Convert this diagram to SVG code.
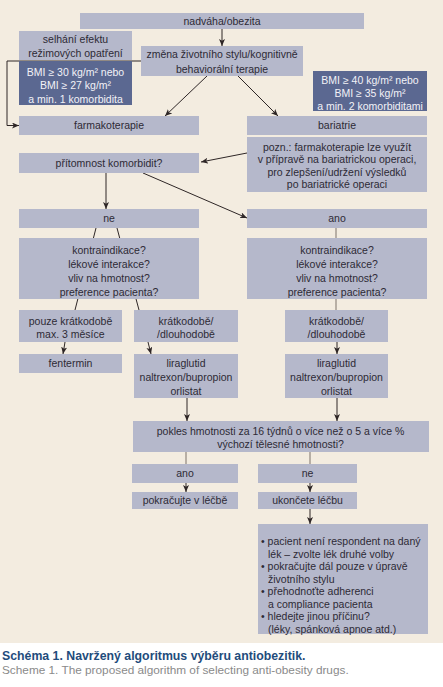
<svg xmlns="http://www.w3.org/2000/svg" width="443" height="687" viewBox="0 0 443 687">
<defs>
<marker id="ah" markerUnits="userSpaceOnUse" markerWidth="8" markerHeight="7" refX="7" refY="3" orient="auto">
<path d="M0,0 L7,3 L0,6 L1.8,3 z" fill="#2e2626"/>
</marker>
<style>
text{font-family:"Liberation Sans",Arial,sans-serif;font-size:10.5px;fill:#2d2a35;text-anchor:middle}
.b{fill:#b5b8cb}
.d{fill:#5b6891}
.w{fill:#f2f2f7}
.l{text-anchor:start}
.c{stroke:#2e2626;stroke-width:1;fill:none}
.a{marker-end:url(#ah)}
.g{stroke:#7d736a;stroke-width:1;fill:none}
.cap1{font-size:12.3px;font-weight:bold;fill:#1f4c7c;text-anchor:start}
.cap2{font-size:11.8px;fill:#8a8a8a;text-anchor:start}
</style>
</defs>
<rect x="0" y="0" width="443" height="643" fill="#f3ece0"/>
<g id="connectors">
<line class="c a" x1="222" y1="29" x2="222" y2="46"/>
<line class="c a" x1="207" y1="76" x2="165" y2="116"/>
<line class="c a" x1="238" y1="76" x2="278" y2="116"/>
<polyline class="c a" points="141,61 7,61 7,125.5 19,125.5"/>
<line class="c a" x1="247" y1="153" x2="201" y2="162"/>
<line class="c a" x1="106" y1="173" x2="106" y2="209"/>
<line class="c a" x1="143" y1="173" x2="247" y2="218"/>
<line class="c" x1="96" y1="228" x2="75" y2="310"/>
<line class="c" x1="117" y1="228" x2="139" y2="310"/>
<line class="g" x1="336" y1="228" x2="336" y2="310"/>
<line class="c a" x1="65" y1="342" x2="63" y2="354"/>
<line class="c a" x1="148" y1="342" x2="151" y2="354"/>
<line class="c a" x1="337" y1="342" x2="337" y2="354"/>
<line class="c a" x1="187" y1="398" x2="187" y2="421"/>
<line class="c a" x1="337" y1="398" x2="337" y2="421"/>
<line class="g" x1="186" y1="452" x2="186" y2="464"/>
<line class="g" x1="310" y1="452" x2="310" y2="464"/>
<line class="c a" x1="186" y1="483" x2="186" y2="492"/>
<line class="c a" x1="310" y1="483" x2="310" y2="492"/>
<line class="c a" x1="310" y1="509" x2="310" y2="524"/>
</g>
<g id="n1"><rect class="b" x="80" y="13" width="284" height="16"/><text x="222" y="24.5">nadváha/obezita</text></g>
<g id="n2"><rect class="b" x="19" y="31" width="113" height="29"/><text x="75.5" y="43">selhání efektu</text><text x="75.5" y="56.5">režimových opatření</text></g>
<g id="n3"><rect class="b" x="141" y="46" width="162" height="30"/><text x="222" y="57.5">změna životního stylu/kognitivně</text><text x="222" y="72.5">behaviorální terapie</text></g>
<g id="n4"><rect class="d" x="19" y="61" width="113" height="44"/><text class="w" x="75.5" y="75.5">BMI ≥ 30 kg/m² nebo</text><text class="w" x="75.5" y="88.5">BMI ≥ 27 kg/m²</text><text class="w" x="75.5" y="102.5">a min. 1 komorbidita</text></g>
<g id="n5"><rect class="d" x="313" y="71" width="114" height="40"/><text class="w" x="370" y="83.5">BMI ≥ 40 kg/m² nebo</text><text class="w" x="370" y="96.5">BMI ≥ 35 kg/m²</text><text class="w" x="370" y="110">a min. 2 komorbiditami</text></g>
<g id="n6"><rect class="b" x="19" y="116" width="180" height="19"/><text x="109" y="129">farmakoterapie</text></g>
<g id="n7"><rect class="b" x="247" y="116" width="180" height="19"/><text x="337" y="129">bariatrie</text></g>
<g id="n8"><rect class="b" x="247" y="137" width="180" height="55"/><text x="337" y="150.5">pozn.: farmakoterapie lze využít</text><text x="337" y="163">v přípravě na bariatrickou operaci,</text><text x="337" y="175.5">pro zlepšení/udržení výsledků</text><text x="337" y="188">po bariatrické operaci</text></g>
<g id="n9"><rect class="b" x="19" y="153" width="180" height="20"/><text x="109" y="166.5">přítomnost komorbidit?</text></g>
<g id="n10"><rect class="b" x="19" y="209" width="180" height="19"/><text x="109" y="222">ne</text></g>
<g id="n11"><rect class="b" x="247" y="209" width="180" height="19"/><text x="337" y="222">ano</text></g>
<g id="n12"><rect class="b" x="19" y="238" width="180" height="61"/><text x="109" y="253.5">kontraindikace?</text><text x="109" y="267.5">lékové interakce?</text><text x="109" y="281.5">vliv na hmotnost?</text><text x="109" y="295.5">preference pacienta?</text></g>
<g id="n13"><rect class="b" x="247" y="238" width="180" height="61"/><text x="337" y="253.5">kontraindikace?</text><text x="337" y="267.5">lékové interakce?</text><text x="337" y="281.5">vliv na hmotnost?</text><text x="337" y="295.5">preference pacienta?</text></g>
<g id="n14"><rect class="b" x="19" y="310" width="103" height="32"/><text x="70.5" y="324.5">pouze krátkodobě</text><text x="70.5" y="337.5">max. 3 měsíce</text></g>
<g id="n15"><rect class="b" x="134" y="310" width="104" height="32"/><text x="186" y="324.5">krátkodobě/</text><text x="186" y="337.5">/dlouhodobě</text></g>
<g id="n16"><rect class="b" x="285" y="310" width="103" height="32"/><text x="336.5" y="324.5">krátkodobě/</text><text x="336.5" y="337.5">/dlouhodobě</text></g>
<g id="n17"><rect class="b" x="19" y="354" width="103" height="19"/><text x="70.5" y="366.5">fentermin</text></g>
<g id="n18"><rect class="b" x="134" y="354" width="104" height="44"/><text x="186" y="366.5">liraglutid</text><text x="186" y="380.5">naltrexon/bupropion</text><text x="186" y="394.5">orlistat</text></g>
<g id="n19"><rect class="b" x="285" y="354" width="103" height="44"/><text x="336.5" y="366.5">liraglutid</text><text x="336.5" y="380.5">naltrexon/bupropion</text><text x="336.5" y="394.5">orlistat</text></g>
<g id="n20"><rect class="b" x="133" y="421" width="296" height="31"/><text x="280.5" y="434.5">pokles hmotnosti za 16 týdnů o více než o 5 a více %</text><text x="280.5" y="447.5">výchozí tělesné hmotnosti?</text></g>
<g id="n21"><rect class="b" x="132" y="464" width="106" height="19"/><text x="185" y="477">ano</text></g>
<g id="n22"><rect class="b" x="258" y="464" width="99" height="19"/><text x="307.5" y="477">ne</text></g>
<g id="n23"><rect class="b" x="132" y="492" width="106" height="17"/><text x="185" y="504">pokračujte v léčbě</text></g>
<g id="n24"><rect class="b" x="258" y="492" width="99" height="17"/><text x="307.5" y="504">ukončete léčbu</text></g>
<g id="n25"><rect class="b" x="258" y="524" width="170" height="110"/>
<text class="l" x="261" y="545">• pacient není respondent na daný</text>
<text class="l" x="268" y="557.5">lék – zvolte lék druhé volby</text>
<text class="l" x="261" y="570">• pokračujte dál pouze v úpravě</text>
<text class="l" x="268" y="582.5">životního stylu</text>
<text class="l" x="261" y="595">• přehodnoťte adherenci</text>
<text class="l" x="268" y="607.5">a compliance pacienta</text>
<text class="l" x="261" y="620">• hledejte jinou příčinu?</text>
<text class="l" x="268" y="632.5">(léky, spánková apnoe atd.)</text>
</g>
<g id="caption"><text class="cap1" x="2" y="660">Schéma 1. Navržený algoritmus výběru antiobezitik.</text><text class="cap2" x="2" y="673.5">Scheme 1. The proposed algorithm of selecting anti-obesity drugs.</text></g>
</svg>
